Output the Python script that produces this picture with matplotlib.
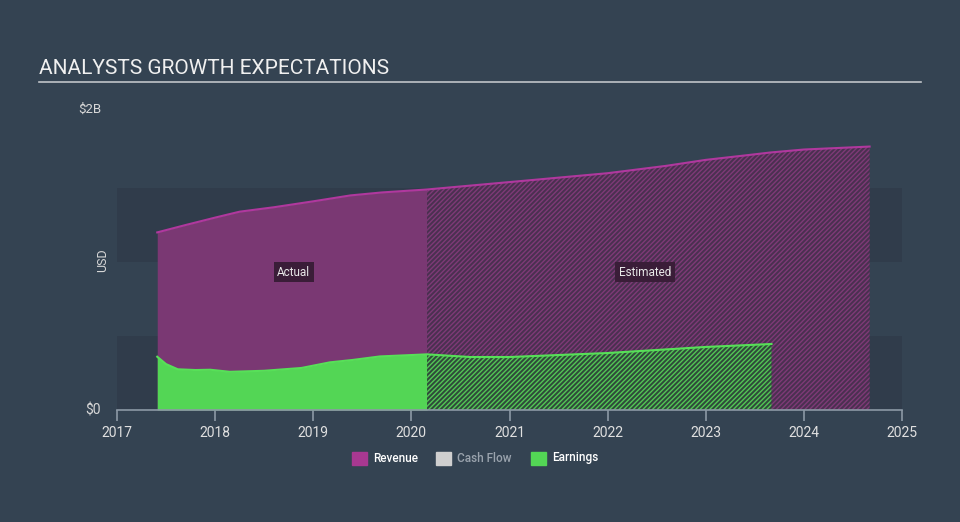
import matplotlib.pyplot as plt
from matplotlib.patches import Rectangle

plt.rcParams['font.family'] = ['Roboto', 'DejaVu Sans']
plt.rcParams['hatch.linewidth'] = 1.0

# data (year fraction, billions USD)
rev_years_act = [2017.41, 2017.7, 2018.0, 2018.25, 2018.6, 2019.0, 2019.38, 2019.7, 2020.16]
rev_vals_act = [1.20, 1.25, 1.30, 1.34, 1.37, 1.41, 1.45, 1.47, 1.49]
rev_years_est = [2020.16, 2021.0, 2022.0, 2022.6, 2023.0, 2023.4, 2023.66, 2024.0, 2024.67]
rev_vals_est = [1.49, 1.54, 1.60, 1.65, 1.69, 1.72, 1.74, 1.76, 1.78]

earn_years_act = [2017.41, 2017.5, 2017.62, 2017.8, 2017.95, 2018.15, 2018.5, 2018.88,
                  2019.17, 2019.4, 2019.68, 2020.16]
earn_vals_act = [0.36, 0.31, 0.275, 0.27, 0.272, 0.258, 0.265, 0.284, 0.322, 0.338, 0.362, 0.376]
earn_years_est = [2020.16, 2020.6, 2021.0, 2022.0, 2023.0, 2023.67]
earn_vals_est = [0.376, 0.358, 0.358, 0.385, 0.426, 0.446]

legend_labels = ['Revenue', 'Cash Flow', 'Earnings']
legend_colors = ['#a83891', '#cfcfcf', '#53d655']
legend_text_colors = ['#ffffff', '#9aa3ad', '#ffffff']

bg = '#344352'
band = '#303c4b'

fig = plt.figure(figsize=(9.6, 5.22), dpi=100, facecolor=bg)
ax = fig.add_axes([117 / 960, 1 - 410 / 522, (902 - 117) / 960, (410 - 114) / 522])
ax.set_facecolor(bg)
ax.set_xlim(2017, 2025)
ax.set_ylim(0, 2.0)

# alternating background bands
for lo in [0.0, 1.0]:
    ax.axhspan(lo, lo + 0.5, color=band, zorder=0, lw=0)

# revenue
ax.fill_between(rev_years_act, rev_vals_act, color='#7a3873', lw=0, zorder=1)
ax.fill_between(rev_years_est, rev_vals_est, facecolor='#4a3050', edgecolor='#7e3a77',
                hatch='///////', lw=0, zorder=1)
ax.plot(rev_years_act + rev_years_est[1:], rev_vals_act + rev_vals_est[1:],
        color='#b0389e', lw=1.5, zorder=3)

# earnings
ax.fill_between(earn_years_act, earn_vals_act, color='#53d655', lw=0, zorder=2)
ax.fill_between(earn_years_est, earn_vals_est, facecolor='#2f4a3a', edgecolor='#53c655',
                hatch='///////', lw=0, zorder=2)
ax.plot(earn_years_act + earn_years_est[1:], earn_vals_act + earn_vals_est[1:],
        color='#57e058', lw=1.5, zorder=3)

# labels
for x, txt in [(2018.8, 'Actual'), (2022.38, 'Estimated')]:
    ax.text(x, 0.93, txt, color='#e8e8e8', fontsize=8.5, ha='center', va='center', zorder=5,
            bbox=dict(boxstyle='square,pad=0.3', fc='#3a1d38', ec='none'))

# axes styling
for s in ['top', 'right', 'left']:
    ax.spines[s].set_visible(False)
ax.spines['bottom'].set_color('#8c99a6')
ax.spines['bottom'].set_linewidth(1.2)
ax.set_xticks(range(2017, 2026))
ax.tick_params(axis='x', colors='#8c99a6', length=8, width=1.2, labelcolor='#e0e0e0',
               labelsize=10)
ax.set_yticks([])

fig.text(101 / 960, 1 - 410 / 522, '$0', color='#d8d8d8', fontsize=10, ha='right', va='center')
fig.text(101 / 960, 1 - 109 / 522, '$2B', color='#d8d8d8', fontsize=9.5, ha='right', va='center')
fig.text(103 / 960, 1 - 260 / 522, 'USD', color='#d8d8d8', fontsize=9, ha='center', va='center',
         rotation=90)

# title and rule
fig.text(39 / 960, 1 - 69 / 522, 'ANALYSTS GROWTH EXPECTATIONS', color='#f0f0f0', fontsize=15,
         ha='left', va='center')
fig.add_artist(plt.Line2D([39 / 960, 921 / 960], [1 - 82 / 522, 1 - 82 / 522],
                          color='#c0c4c8', lw=1.2))

# legend
lx = [352, 436, 531]
for x, lab, c, tc in zip(lx, legend_labels, legend_colors, legend_text_colors):
    fig.add_artist(Rectangle((x / 960, 1 - 465 / 522), 15 / 960, 13 / 522, color=c,
                             transform=fig.transFigure))
    fig.text((x + 21) / 960, 1 - 458 / 522, lab, color=tc, fontsize=8.5, ha='left',
             va='center', fontweight='medium')

fig.savefig('out.png', dpi=100, facecolor=bg)
